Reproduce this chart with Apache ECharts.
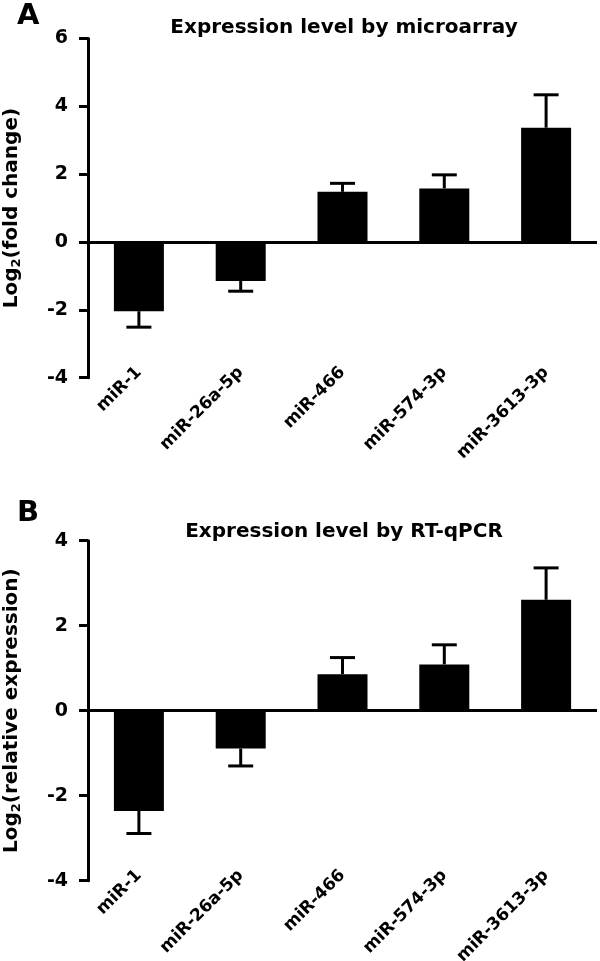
<!DOCTYPE html>
<html>
<head>
<meta charset="utf-8">
<script src="https://cdn.jsdelivr.net/npm/echarts@6/dist/echarts.min.js"></script>
<style>
  html, body { margin: 0; padding: 0; background: #fff; }
  #chart { width: 600px; height: 961px; }
</style>
</head>
<body>
<div id="chart"></div>
<script>
// data
var categories = ['miR-1', 'miR-26a-5p', 'miR-466', 'miR-574-3p', 'miR-3613-3p'];
var microarrayMean = [-2.04, -1.15, 1.48, 1.58, 3.37];
var microarrayErr = [0.47, 0.30, 0.25, 0.40, 0.97];
var qpcrMean = [-2.36, -0.89, 0.86, 1.09, 2.61];
var qpcrErr = [0.53, 0.41, 0.39, 0.46, 0.75];

var FONT = 'DejaVu Sans';
var chart = echarts.init(document.getElementById('chart'));

// error bar: stem from bar end outward plus a cap
function errorBar(means, errs) {
    return function (params, api) {
        var i = api.value(0);
        var m = means[i];
        var tip = m >= 0 ? m + errs[i] : m - errs[i];
        var p0 = api.coord([i, m]);
        var p1 = api.coord([i, tip]);
        var half = 12.5;
        var style = { stroke: '#000', lineWidth: 3 };
        return {
            type: 'group',
            children: [
                { type: 'line', shape: { x1: p0[0], y1: p0[1], x2: p1[0], y2: p1[1] }, style: style },
                { type: 'line', shape: { x1: p1[0] - half, y1: p1[1], x2: p1[0] + half, y2: p1[1] }, style: style }
            ]
        };
    };
}

function yAxisCfg(idx, min, max, name) {
    return {
        gridIndex: idx,
        type: 'value',
        min: min,
        max: max,
        interval: 2,
        name: name,
        nameLocation: 'middle',
        nameGap: 65,
        nameTextStyle: {
            rich: {
                t: { fontFamily: FONT, fontWeight: 'bold', fontSize: 20, color: '#000' },
                s: { fontFamily: FONT, fontWeight: 'bold', fontSize: 13, color: '#000', verticalAlign: 'bottom', padding: [10, 0, 0, 0] }
            }
        },
        axisLine: { show: true, lineStyle: { color: '#000', width: 3 } },
        axisTick: { show: true, length: 9, lineStyle: { color: '#000', width: 3 } },
        axisLabel: { margin: 20, color: '#000', fontFamily: FONT, fontWeight: 'bold', fontSize: 19 },
        splitLine: { show: false }
    };
}

function xAxisCfg(idx) {
    return {
        gridIndex: idx,
        type: 'category',
        data: categories,
        axisLine: { show: false, onZero: false },
        axisTick: { show: false },
        axisLabel: { rotate: 45, margin: -8, interval: 0, color: '#000', fontFamily: FONT, fontWeight: 'bold', fontSize: 17 }
    };
}

function zeroLine() {
    return {
        silent: true,
        symbol: 'none',
        label: { show: false },
        lineStyle: { color: '#000', width: 3, type: 'solid' },
        data: [{ yAxis: 0 }]
    };
}

var option = {
    animation: false,
    title: [
        { text: 'A', left: 12, top: -3, textStyle: { fontFamily: FONT, fontWeight: 'bold', fontSize: 29, color: '#000' } },
        { text: 'Expression level by microarray', left: 339, top: 13, textAlign: 'center',
          textStyle: { fontFamily: FONT, fontWeight: 'bold', fontSize: 20, color: '#000' } },
        { text: 'B', left: 12, top: 494, textStyle: { fontFamily: FONT, fontWeight: 'bold', fontSize: 29, color: '#000' } },
        { text: 'Expression level by RT-qPCR', left: 339, top: 517, textAlign: 'center',
          textStyle: { fontFamily: FONT, fontWeight: 'bold', fontSize: 20, color: '#000' } }
    ],
    grid: [
        { left: 88, right: 3, top: 38.5, height: 339.2, outerBoundsMode: 'none' },
        { left: 88, right: 3, top: 540.7, height: 340, outerBoundsMode: 'none' }
    ],
    xAxis: [xAxisCfg(0), xAxisCfg(1)],
    yAxis: [
        yAxisCfg(0, -4, 6, '{t|Log}{s|2}{t|(fold change)}'),
        yAxisCfg(1, -4, 4, '{t|Log}{s|2}{t|(relative expression)}')
    ],
    series: [
        {
            type: 'bar', xAxisIndex: 0, yAxisIndex: 0, data: microarrayMean,
            barWidth: 50, itemStyle: { color: '#000' }, markLine: zeroLine()
        },
        {
            type: 'custom', xAxisIndex: 0, yAxisIndex: 0,
            data: microarrayMean.map(function (v, i) { return [i, v]; }),
            renderItem: errorBar(microarrayMean, microarrayErr), z: 3
        },
        {
            type: 'bar', xAxisIndex: 1, yAxisIndex: 1, data: qpcrMean,
            barWidth: 50, itemStyle: { color: '#000' }, markLine: zeroLine()
        },
        {
            type: 'custom', xAxisIndex: 1, yAxisIndex: 1,
            data: qpcrMean.map(function (v, i) { return [i, v]; }),
            renderItem: errorBar(qpcrMean, qpcrErr), z: 3
        }
    ]
};

chart.setOption(option);
</script>
</body>
</html>
